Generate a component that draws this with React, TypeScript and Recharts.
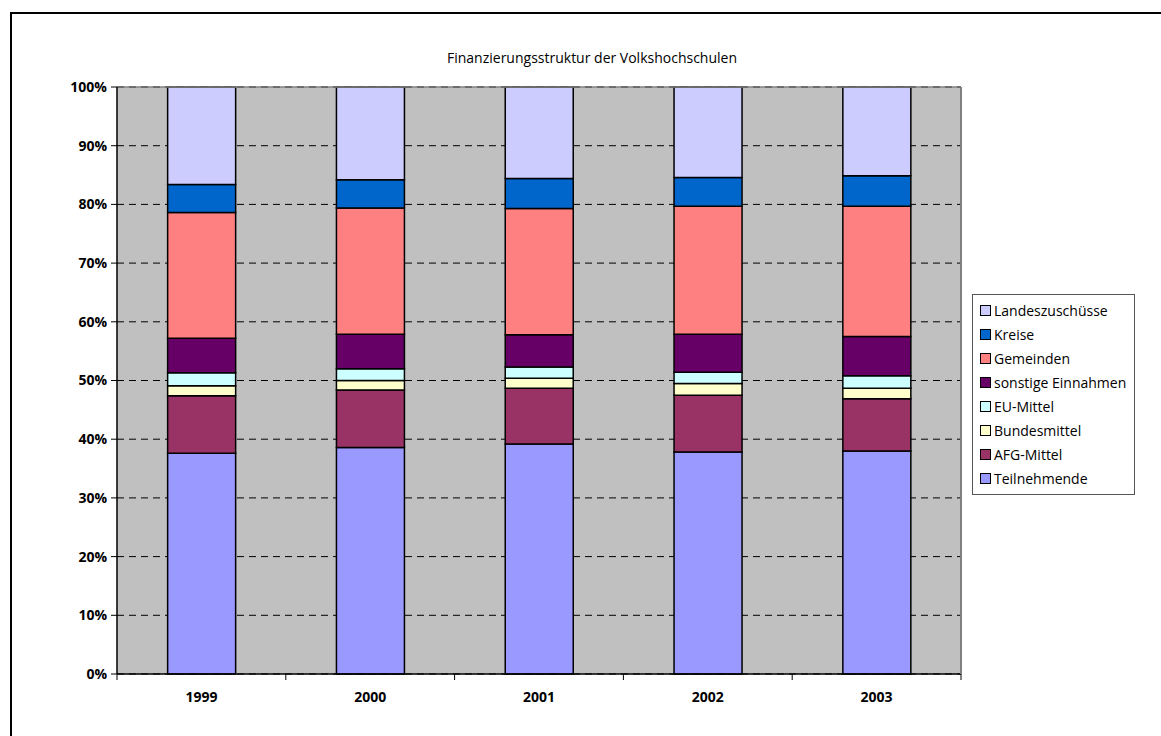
import React from 'react'
import { Bar, BarChart, CartesianGrid, ReferenceLine, XAxis, YAxis } from 'recharts'

const years = ['1999', '2000', '2001', '2002', '2003']
const teilnehmende = [37.6, 38.6, 39.2, 37.8, 38.0]
const afgMittel = [9.8, 9.8, 9.5, 9.7, 8.9]
const bundesmittel = [1.7, 1.6, 1.7, 2.0, 1.8]
const euMittel = [2.2, 2.0, 1.9, 1.9, 2.1]
const sonstige = [5.9, 5.9, 5.5, 6.5, 6.7]
const gemeinden = [21.4, 21.5, 21.5, 21.8, 22.2]
const kreise = [4.8, 4.8, 5.1, 4.9, 5.2]
const landeszuschuesse = [16.6, 15.8, 15.6, 15.4, 15.1]
const yTicks = [0, 10, 20, 30, 40, 50, 60, 70, 80, 90, 100]

const series = [
  { key: 'Teilnehmende', values: teilnehmende, color: '#9999FF' },
  { key: 'AFG-Mittel', values: afgMittel, color: '#993366' },
  { key: 'Bundesmittel', values: bundesmittel, color: '#FFFFCC' },
  { key: 'EU-Mittel', values: euMittel, color: '#CCFFFF' },
  { key: 'sonstige Einnahmen', values: sonstige, color: '#660066' },
  { key: 'Gemeinden', values: gemeinden, color: '#FF8080' },
  { key: 'Kreise', values: kreise, color: '#0066CC' },
  { key: 'Landeszuschüsse', values: landeszuschuesse, color: '#CCCCFF' },
]

const data = years.map((year, i) => {
  const row: Record<string, any> = { year }
  series.forEach((s) => (row[s.key] = s.values[i]))
  return row
})

const FONT = '"Open Sans", sans-serif'
const PLOT_LEFT = 117
const PLOT_RIGHT = 961
const catWidth = (PLOT_RIGHT - PLOT_LEFT) / years.length

const YearTick = (props: any) => {
  const { x, y, payload, index } = props
  const half = catWidth / 2
  return (
    <g>
      <line x1={x - half} y1={y - 8} x2={x - half} y2={y - 2} stroke='#000' />
      {index === years.length - 1 && <line x1={x + half} y1={y - 8} x2={x + half} y2={y - 2} stroke='#000' />}
      <text x={x} y={y + 20} textAnchor='middle' fontSize={14} fontWeight={700} fontFamily={FONT} fill='#000'>
        {payload.value}
      </text>
    </g>
  )
}

const LegendBox = () => (
  <div
    style={{
      position: 'absolute',
      left: 972,
      top: 294,
      border: '1px solid #555',
      background: '#fff',
      width: 154,
      padding: '3px 0 4px 7px',
      fontFamily: FONT,
      fontSize: 14,
      fontWeight: 500,
      color: '#000',
    }}
  >
    {[...series].reverse().map((s) => (
      <div key={s.key} style={{ display: 'flex', alignItems: 'center', height: 24 }}>
        <span style={{ width: 9, height: 9, background: s.color, border: '1px solid #000', marginRight: 3 }} />
        {s.key}
      </div>
    ))}
  </div>
)

export default function App() {
  return (
    <div style={{ position: 'absolute', left: 0, top: 0, width: 1161, height: 736, overflow: 'hidden', background: '#fff' }}>
      <div style={{ position: 'absolute', left: 10, top: 12, width: 1200, height: 800, border: '2px solid #000' }} />
      <div
        style={{
          position: 'absolute',
          left: 0,
          top: 48,
          width: 1184,
          textAlign: 'center',
          fontFamily: FONT,
          fontSize: 14,
          fontWeight: 500,
          color: '#000',
        }}
      >
        Finanzierungsstruktur der Volkshochschulen
      </div>
      <div style={{ position: 'absolute', left: 0, top: 0 }}>
        <BarChart
          width={1161}
          height={736}
          data={data}
          barCategoryGap='30%'
          margin={{ top: 87, right: 1161 - PLOT_RIGHT - 1, bottom: 32, left: PLOT_LEFT - 60 }}
        >
          <CartesianGrid vertical={false} fill='#C0C0C0' stroke='#000' strokeDasharray='7 5' />
          <ReferenceLine y={100} stroke='#808080' strokeWidth={1.5} />
          <XAxis dataKey='year' axisLine={{ stroke: '#000', strokeWidth: 1.5 }} tickLine={false} tick={<YearTick />} height={30} interval={0} />
          <YAxis
            domain={[0, 100]}
            ticks={yTicks}
            width={60}
            axisLine={{ stroke: '#000', strokeWidth: 1.5 }}
            tickLine={{ stroke: '#000' }}
            tickSize={6}
            tickMargin={4}
            tickFormatter={(v) => `${v}%`}
            tick={{ fontSize: 14, fontWeight: 700, fontFamily: FONT, fill: '#000' }}
          />
          <YAxis yAxisId='r' orientation='right' width={1} tick={false} tickLine={false} axisLine={{ stroke: '#808080', strokeWidth: 2 }} />
          {series.map((s) => (
            <Bar key={s.key} dataKey={s.key} stackId='a' fill={s.color} stroke='#000' strokeWidth={1.5} isAnimationActive={false} />
          ))}
        </BarChart>
      </div>
      <LegendBox />
    </div>
  )
}
